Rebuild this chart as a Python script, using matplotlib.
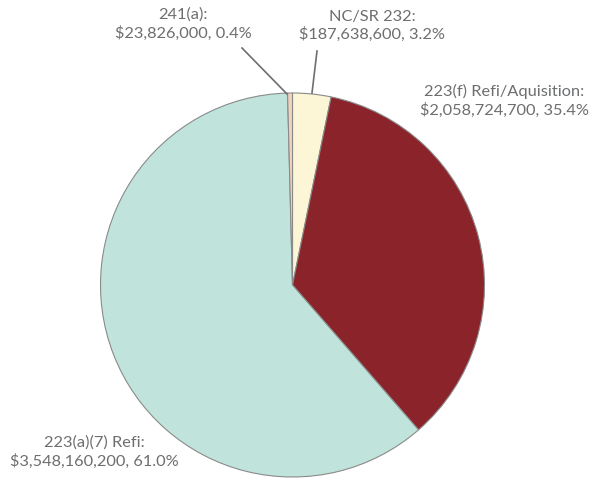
import matplotlib
matplotlib.use("Agg")
import matplotlib.pyplot as plt

categories = ["NC/SR 232", "223(f) Refi/Aquisition", "223(a)(7) Refi", "241(a)"]
amounts = [187638600, 2058724700, 3548160200, 23826000]
percents = ["3.2%", "35.4%", "61.0%", "0.4%"]
colors = ["#fcf6d6", "#8b242a", "#c0e4db", "#f0d3bd"]

W, H = 593, 481
fig = plt.figure(figsize=(W / 100, H / 100), dpi=100)
ax = fig.add_axes([0, 0, 1, 1])

cx, cy, r = 292.5, H - 286, 192
ax.pie(amounts, colors=colors, startangle=90, counterclock=False,
       center=(cx, cy), radius=r, frame=True,
       wedgeprops=dict(edgecolor="#8a8a8a", linewidth=0.8))
ax.set_xlim(0, W)
ax.set_ylim(0, H)
ax.set_aspect("equal")
ax.axis("off")

def lab(i):
    return f"{categories[i]}:\n${amounts[i]:,}, {percents[i]}"

font = dict(family="Lato", size=11.8, color="#6d6e70", linespacing=1.3,
            multialignment="center")
# positions in pixel coords (top-left origin)
ax.text(183, H - 24, lab(3), ha="center", va="center", **font)
ax.text(372, H - 26, lab(0), ha="center", va="center", **font)
ax.text(504, H - 101, lab(1), ha="center", va="center", **font)
ax.text(94, H - 452, lab(2), ha="center", va="center", **font)

ax.plot([242, 287], [H - 49, H - 95], color="#6d6e70", lw=1.2)
ax.plot([317, 312], [H - 52, H - 94], color="#6d6e70", lw=1.2)

fig.savefig("out.png", dpi=100)
